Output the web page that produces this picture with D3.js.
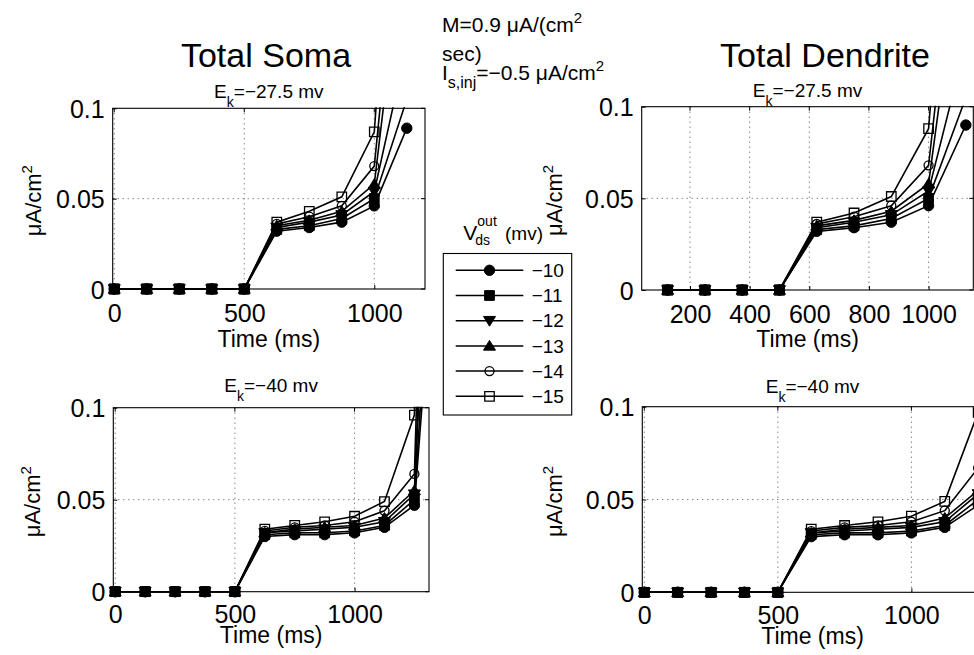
<!DOCTYPE html>
<html>
<head>
<meta charset="utf-8">
<script src="https://cdn.jsdelivr.net/npm/d3@7"></script>
<style>
  body { margin: 0; background: #fff; }
  svg { display: block; font-family: "Liberation Sans", Arial, Helvetica, sans-serif; }
</style>
</head>
<body>
<div id="chart"></div>
<script>
var width = 974;
var height = 655;

// legend entries, V_ds^out (mv)
var vds = ["−10", "−11", "−12", "−13", "−14", "−15"];

// Total Soma, Ek = -27.5 mv
var timeSomaTop = [0, 125, 250, 375, 500, 625, 750, 875, 1000, 1125];
var somaTop = [
  [0, 0, 0, 0, 0, 0.032, 0.034, 0.037, 0.046, 0.089],
  [0, 0, 0, 0, 0, 0.033, 0.035, 0.039, 0.050, 0.105],
  [0, 0, 0, 0, 0, 0.034, 0.037, 0.041, 0.054, 0.135],
  [0, 0, 0, 0, 0, 0.035, 0.038, 0.043, 0.058, 0.210],
  [0, 0, 0, 0, 0, 0.036, 0.040, 0.046, 0.068, 0.250],
  [0, 0, 0, 0, 0, 0.037, 0.043, 0.051, 0.087, 0.340]
];

// Total Dendrite, Ek = -27.5 mv
var timeDendTop = [125, 250, 375, 500, 625, 750, 875, 1000, 1125];
var dendTop = [
  [0, 0, 0, 0, 0.032, 0.034, 0.037, 0.046, 0.090],
  [0, 0, 0, 0, 0.033, 0.035, 0.039, 0.050, 0.105],
  [0, 0, 0, 0, 0.034, 0.037, 0.041, 0.054, 0.135],
  [0, 0, 0, 0, 0.035, 0.038, 0.043, 0.058, 0.210],
  [0, 0, 0, 0, 0.036, 0.040, 0.046, 0.068, 0.250],
  [0, 0, 0, 0, 0.037, 0.042, 0.051, 0.088, 0.340]
];

// Total Soma, Ek = -40 mv
var timeSomaBot = [0, 125, 250, 375, 500, 625, 750, 875, 1000, 1125, 1250, 1375];
var somaBot = [
  [0, 0, 0, 0, 0, 0.030, 0.031, 0.031, 0.032, 0.035, 0.047, 0.26],
  [0, 0, 0, 0, 0, 0.031, 0.032, 0.032, 0.033, 0.036, 0.050, 0.30],
  [0, 0, 0, 0, 0, 0.032, 0.033, 0.034, 0.035, 0.038, 0.053, 0.40],
  [0, 0, 0, 0, 0, 0.032, 0.034, 0.035, 0.036, 0.040, 0.055, 0.45],
  [0, 0, 0, 0, 0, 0.033, 0.035, 0.036, 0.038, 0.044, 0.064, 0.60],
  [0, 0, 0, 0, 0, 0.034, 0.036, 0.038, 0.041, 0.049, 0.096, 1.00]
];

// Total Dendrite, Ek = -40 mv
var timeDendBot = [0, 125, 250, 375, 500, 625, 750, 875, 1000, 1125, 1250];
var dendBot = [
  [0, 0, 0, 0, 0, 0.030, 0.031, 0.031, 0.032, 0.035, 0.047],
  [0, 0, 0, 0, 0, 0.031, 0.032, 0.032, 0.033, 0.036, 0.050],
  [0, 0, 0, 0, 0, 0.032, 0.033, 0.034, 0.035, 0.038, 0.053],
  [0, 0, 0, 0, 0, 0.032, 0.034, 0.035, 0.036, 0.040, 0.055],
  [0, 0, 0, 0, 0, 0.033, 0.035, 0.036, 0.038, 0.044, 0.067],
  [0, 0, 0, 0, 0, 0.034, 0.036, 0.038, 0.041, 0.049, 0.097]
];

var yTicks = [0, 0.05, 0.1];
var font = '"Liberation Sans", Arial, Helvetica, sans-serif';

// marker shapes (MATLAB style: o s v ^ o s)
var triDown = { draw: function(ctx, size) { var w = Math.sqrt(size) / 2;
  ctx.moveTo(-w * 1.2, -w * 0.85); ctx.lineTo(w * 1.2, -w * 0.85); ctx.lineTo(0, w * 1.1); ctx.closePath(); } };
var triUp = { draw: function(ctx, size) { var w = Math.sqrt(size) / 2;
  ctx.moveTo(-w * 1.2, w * 0.85); ctx.lineTo(w * 1.2, w * 0.85); ctx.lineTo(0, -w * 1.1); ctx.closePath(); } };
var markerDefs = [
  { type: d3.symbolCircle, size: 85, fill: "#000" },
  { type: d3.symbolSquare, size: 95, fill: "#000" },
  { type: triDown, size: 100, fill: "#000" },
  { type: triUp, size: 100, fill: "#000" },
  { type: d3.symbolCircle, size: 64, fill: "none" },
  { type: d3.symbolSquare, size: 90, fill: "none" }
];

var panels = [
  { t: timeSomaTop, v: somaTop, ek: "−27.5", title: "Total Soma", titleX: 266,
    left: 112.7, right: 425, top: 108.3, bottom: 289, dom: [-6, 1195], xt: [0, 500, 1000],
    subY: 98.3, labY: 346.5, ylabX: 41, pad: 15 },
  { t: timeDendTop, v: dendTop, ek: "−27.5", title: "Total Dendrite", titleX: 825,
    left: 641.7, right: 973.3, top: 106.7, bottom: 290, dom: [38, 1150], xt: [200, 400, 600, 800, 1000],
    subY: 96.7, labY: 347, ylabX: 562, pad: 15 },
  { t: timeSomaBot, v: somaBot, ek: "−40",
    left: 113.3, right: 429, top: 407.7, bottom: 591.7, dom: [-8, 1311], xt: [0, 500, 1000],
    subY: 391.7, labY: 643, ylabX: 40, pad: 13.5 },
  { t: timeDendBot, v: dendBot, ek: "−40",
    left: 642.3, right: 982.7, top: 406.7, bottom: 592.3, dom: [-7.5, 1267], xt: [0, 500, 1000],
    subY: 393.3, labY: 643.5, ylabX: 562, pad: 13.5 }
];

var svg = d3.select("#chart").append("svg")
  .attr("width", width)
  .attr("height", height);

panels.forEach(function(p, pi) {
  var x = d3.scaleLinear().domain(p.dom).range([p.left, p.right]);
  var y = d3.scaleLinear().domain([0, 0.1]).range([p.bottom, p.top]);
  var g = svg.append("g");

  g.append("clipPath").attr("id", "clip" + pi)
    .append("rect")
    .attr("x", p.left).attr("y", p.top - 1)
    .attr("width", p.right - p.left).attr("height", p.bottom - p.top + 2);

  // dotted grid
  g.selectAll(".gx").data(p.xt).enter().append("line")
    .attr("x1", function(d) { return x(d); }).attr("x2", function(d) { return x(d); })
    .attr("y1", p.top).attr("y2", p.bottom)
    .attr("stroke", "#222").attr("stroke-width", 0.8).attr("stroke-dasharray", "1,4");
  g.append("line")
    .attr("x1", p.left).attr("x2", p.right)
    .attr("y1", y(0.05)).attr("y2", y(0.05))
    .attr("stroke", "#222").attr("stroke-width", 0.8).attr("stroke-dasharray", "1,4");

  // axes (labels only, inward ticks)
  var xa = g.append("g").attr("transform", "translate(0," + p.bottom + ")")
    .call(d3.axisBottom(x).tickValues(p.xt).tickFormat(d3.format("d")).tickSizeInner(-4).tickSizeOuter(0).tickPadding(p.pad));
  var ya = g.append("g").attr("transform", "translate(" + p.left + ",0)")
    .call(d3.axisLeft(y).tickValues(yTicks).tickFormat(function(d) { return d === 0 ? "0" : String(d); }).tickSizeInner(-4).tickSizeOuter(0).tickPadding(8));
  [xa, ya].forEach(function(a) {
    a.select(".domain").remove();
    a.selectAll("text").attr("font-family", font).attr("font-size", 25).attr("fill", "#000");
    a.selectAll("line").attr("stroke", "#000");
  });
  ya.selectAll("text").attr("dy", "0.36em");

  // mirrored ticks top/right
  g.selectAll(".tt").data(p.xt).enter().append("line")
    .attr("x1", function(d) { return x(d); }).attr("x2", function(d) { return x(d); })
    .attr("y1", p.top).attr("y2", p.top + 4).attr("stroke", "#000");
  g.selectAll(".tr").data(yTicks).enter().append("line")
    .attr("x1", p.right).attr("x2", p.right - 4)
    .attr("y1", function(d) { return y(d); }).attr("y2", function(d) { return y(d); }).attr("stroke", "#000");

  // box
  g.append("rect")
    .attr("x", p.left).attr("y", p.top)
    .attr("width", p.right - p.left).attr("height", p.bottom - p.top)
    .attr("fill", "none").attr("stroke", "#000").attr("stroke-width", 1.1);

  // series
  var line = d3.line().x(function(d) { return x(d[0]); }).y(function(d) { return y(d[1]); });
  p.v.forEach(function(vals, si) {
    var pts = vals.map(function(v, i) { return [p.t[i], v]; });
    g.append("path").datum(pts)
      .attr("d", line)
      .attr("clip-path", "url(#clip" + pi + ")")
      .attr("fill", "none").attr("stroke", "#000").attr("stroke-width", 1.6);
    var m = markerDefs[si];
    var inside = pts.filter(function(d) { return d[0] >= p.dom[0] && d[0] <= p.dom[1] && d[1] <= 0.1; });
    g.selectAll(".m" + si).data(inside).enter().append("path")
      .attr("transform", function(d) { return "translate(" + x(d[0]) + "," + y(d[1]) + ")"; })
      .attr("d", d3.symbol().type(m.type).size(m.size))
      .attr("fill", m.fill).attr("stroke", "#000").attr("stroke-width", m.fill === "none" ? 1.3 : 1);
  });

  // subtitle E_k
  var cx = (p.left + p.right) / 2;
  var st = g.append("text").attr("x", cx).attr("y", p.subY).attr("text-anchor", "middle")
    .attr("font-family", font).attr("font-size", 19).attr("fill", "#000");
  st.append("tspan").text("E");
  st.append("tspan").attr("dy", 9).attr("font-size", 14).text("k");
  st.append("tspan").attr("dy", -9).text("=" + p.ek + " mv");

  // x label
  g.append("text").attr("x", cx).attr("y", p.labY).attr("text-anchor", "middle")
    .attr("font-family", font).attr("font-size", 23).text("Time (ms)");

  // y label
  var yl = g.append("text")
    .attr("transform", "translate(" + p.ylabX + "," + ((p.top + p.bottom) / 2 + 2) + ") rotate(-90)")
    .attr("text-anchor", "middle").attr("font-family", font).attr("font-size", 22);
  yl.append("tspan").text("μA/cm");
  yl.append("tspan").attr("dy", -9).attr("font-size", 15).text("2");

  if (p.title) {
    g.append("text").attr("x", p.titleX).attr("y", 66.7).attr("text-anchor", "middle")
      .attr("font-family", font).attr("font-size", 34).text(p.title);
  }
});

// header annotation
var hx = 442;
var h1 = svg.append("text").attr("x", hx).attr("y", 31.7).attr("font-family", font).attr("font-size", 21);
h1.append("tspan").text("M=0.9 μA/(cm");
h1.append("tspan").attr("dy", -9).attr("font-size", 15).text("2");
svg.append("text").attr("x", hx).attr("y", 61).attr("font-family", font).attr("font-size", 21).text("sec)");
var h3 = svg.append("text").attr("x", hx).attr("y", 80).attr("font-family", font).attr("font-size", 21);
h3.append("tspan").text("I");
h3.append("tspan").attr("dy", 8).attr("font-size", 16).text("s,inj");
h3.append("tspan").attr("dy", -8).text("=−0.5 μA/cm");
h3.append("tspan").attr("dy", -9).attr("font-size", 15).text("2");

// legend
var lg = svg.append("g");
var lx0 = 443.3, ly0 = 253.5, lx1 = 571.7, ly1 = 415;
var ly = d3.scalePoint().domain(vds).range([270.3, 396.3]);

var vt = lg.append("text").attr("x", 463.3).attr("y", 240).attr("font-family", font).attr("font-size", 21).text("V");
var vw = vt.node().getComputedTextLength();
lg.append("text").attr("x", 463.3 + vw).attr("y", 226).attr("font-family", font).attr("font-size", 14).text("out");
lg.append("text").attr("x", 463.3 + vw - 2).attr("y", 245).attr("font-family", font).attr("font-size", 14).text("ds");
lg.append("text").attr("x", 505).attr("y", 240).attr("font-family", font).attr("font-size", 19).text("(mv)");

lg.append("rect").attr("x", lx0).attr("y", ly0).attr("width", lx1 - lx0).attr("height", ly1 - ly0)
  .attr("fill", "#fff").attr("stroke", "#000").attr("stroke-width", 1.1);

vds.forEach(function(name, si) {
  var yy = ly(name);
  var m = markerDefs[si];
  lg.append("line").attr("x1", 455.7).attr("x2", 523.3).attr("y1", yy).attr("y2", yy)
    .attr("stroke", "#000").attr("stroke-width", 1.5);
  lg.append("path").attr("transform", "translate(489.5," + yy + ")")
    .attr("d", d3.symbol().type(m.type).size(m.size))
    .attr("fill", m.fill).attr("stroke", "#000").attr("stroke-width", m.fill === "none" ? 1.3 : 1);
  lg.append("text").attr("x", 531.7).attr("y", yy).attr("dy", "0.35em")
    .attr("font-family", font).attr("font-size", 19).text(name);
});
</script>
</body>
</html>
